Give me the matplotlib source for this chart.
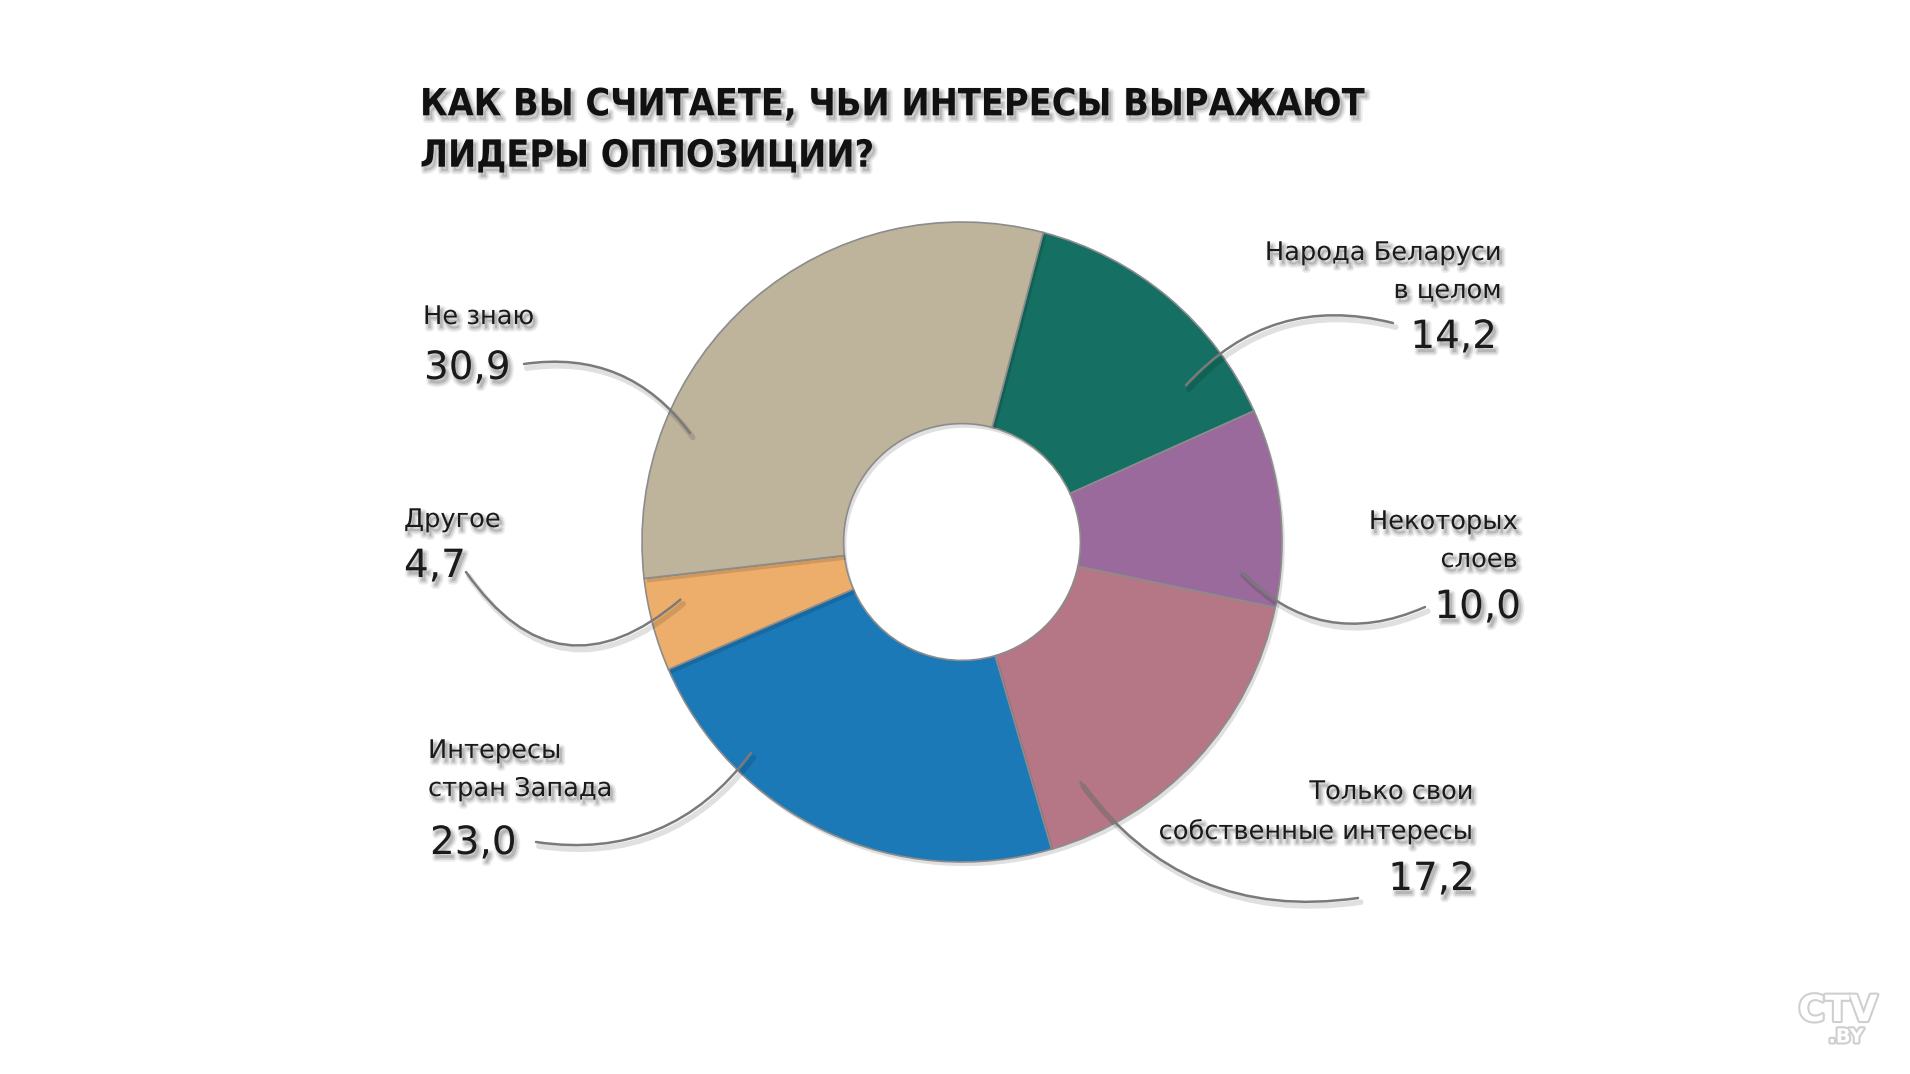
import matplotlib.pyplot as plt
import matplotlib.patheffects as pe
from matplotlib import font_manager
from matplotlib.font_manager import FontProperties

# Data (clockwise from the top)
names = ["Народа Беларуси\nв целом", "Некоторых\nслоев", "Только свои\nсобственные интересы",
         "Интересы\nстран Запада", "Другое", "Не знаю"]
values = [14.2, 10.0, 17.2, 23.0, 4.7, 30.9]
value_text = ["14,2", "10,0", "17,2", "23,0", "4,7", "30,9"]
colors = ["#156f63", "#996a9b", "#b57786", "#1b79b8", "#eeae6b", "#beb39b"]
title = "КАК ВЫ СЧИТАЕТЕ, ЧЬИ ИНТЕРЕСЫ ВЫРАЖАЮТ\nЛИДЕРЫ ОППОЗИЦИИ?"


def condensed_bold():
    # look for any narrow / condensed face, prefer a bold one
    best = None
    for f in font_manager.fontManager.ttflist:
        tag = (str(f.stretch) + f.name + f.fname).lower()
        if "condensed" not in tag and "narrow" not in tag:
            continue
        w = f.weight if isinstance(f.weight, int) else {"bold": 700}.get(f.weight, 400)
        score = abs(w - 700)
        if best is None or score < best[0]:
            best = (score, f.fname)
    return best[1] if best else None


path = condensed_bold()
if path:
    title_fp = FontProperties(fname=path, size=27)
else:
    title_fp = FontProperties(family="DejaVu Sans", weight="bold", size=24)

W, H = 1910, 1074
cx, cy, R = 962, 542, 320

fig = plt.figure(figsize=(W / 100, H / 100), dpi=100)
fig.patch.set_facecolor("white")

ax = fig.add_axes([(cx - R) / W, (H - cy - R) / H, 2 * R / W, 2 * R / H])
wedges, _ = ax.pie(values, colors=colors, startangle=75.3, counterclock=False, radius=1,
                   wedgeprops=dict(width=0.63, edgecolor="#8c8c8c", linewidth=1.2))
for w in wedges:
    w.set_path_effects([pe.SimplePatchShadow(offset=(2, -3), shadow_rgbFace="k", alpha=0.12), pe.Normal()])
ax.set_xlim(-1, 1)
ax.set_ylim(-1, 1)
ax.set_aspect("equal")
ax.axis("off")

# soft drop shadow for text
shadow = [pe.SimpleLineShadow(offset=(2, -3), shadow_color="k", alpha=0.07, linewidth=5),
          pe.SimpleLineShadow(offset=(2, -3), shadow_color="k", alpha=0.1, linewidth=2.5),
          pe.SimplePatchShadow(offset=(2, -3), shadow_rgbFace="k", alpha=0.14),
          pe.Normal()]

# label layout (figure pixels, y from top)
name_pos = [(1502, 272, "right"), (1518, 541, "right"), (1474, 812, "right"),
            (428, 770, "left"), (404, 520, "left"), (423, 317, "left")]
num_pos = [(1497, 337), (1521, 607), (1475, 879), (430, 843), (404, 566), (424, 368)]
line_start = [(1393, 323), (1425, 607), (1358, 898), (536, 842), (466, 572), (524, 364)]
line_end = [(0.70, 0.49), (0.87, -0.09), (0.37, -0.75), (-0.66, -0.66), (-0.88, -0.18), (-0.85, 0.34)]
line_rad = [0.3, -0.35, -0.3, 0.3, 0.55, -0.3]

for i in range(len(values)):
    x, y, ha = name_pos[i]
    fig.text(x / W, 1 - y / H, names[i], ha=ha, va="center", fontsize=18.5, color="#1a1a1a",
             linespacing=1.6, path_effects=shadow)
    nx, ny = num_pos[i]
    fig.text(nx / W, 1 - ny / H, value_text[i], ha=ha, va="center", fontsize=28, color="#1a1a1a",
             path_effects=shadow)
    sx, sy = line_start[i]
    an = ax.annotate("", xy=line_end[i], xycoords="data", xytext=(sx, H - sy), textcoords="figure pixels",
                     arrowprops=dict(arrowstyle="-", color="#7a7a7a", lw=1.8,
                                     connectionstyle=f"arc3,rad={line_rad[i]}", shrinkA=0, shrinkB=0),
                     annotation_clip=False)
    an.arrow_patch.set_path_effects([pe.Stroke(offset=(2, -3), linewidth=4, foreground=(0, 0, 0, 0.12)),
                                     pe.Normal()])

fig.text(420 / W, 1 - 131 / H, title, ha="left", va="center", fontproperties=title_fp,
         color="#111111", linespacing=1.55, path_effects=shadow)

# watermark
wm = [pe.withStroke(linewidth=3, foreground="#cfcfcf")]
fig.text(1838 / W, 1 - 1011 / H, "CTV", ha="center", va="center", fontsize=26, fontweight="bold",
         color="white", path_effects=wm)
fig.text(1846 / W, 1 - 1037 / H, ".BY", ha="center", va="center", fontsize=14, fontweight="bold",
         color="white", path_effects=wm)

fig.savefig("out.png", dpi=100, facecolor="white")
